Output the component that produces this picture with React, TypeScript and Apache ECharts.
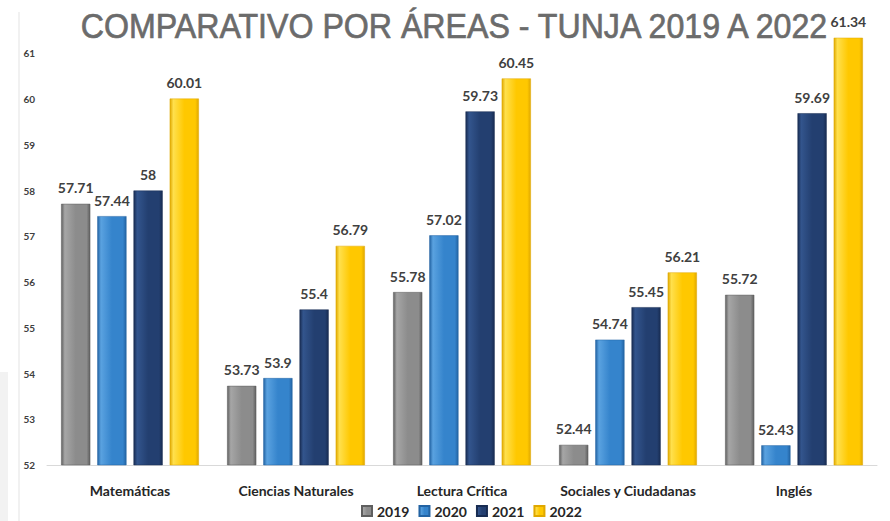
import React, { useEffect, useRef } from "react";
import * as echarts from "echarts";

const categories = ["Matemáticas", "Ciencias Naturales", "Lectura Crítica", "Sociales y Ciudadanas", "Inglés"];
const years = ["2019", "2020", "2021", "2022"];
const values2019 = [57.71, 53.73, 55.78, 52.44, 55.72];
const values2020 = [57.44, 53.9, 57.02, 54.74, 52.43];
const values2021 = [58, 55.4, 59.73, 55.45, 59.69];
const values2022 = [60.01, 56.79, 60.45, 56.21, 61.34];
const seriesValues = [values2019, values2020, values2021, values2022];

const palettes = [
  { edge: "#5f5f5f", mid: "#8c8c8c", light: "#a6a6a6" },
  { edge: "#2363a3", mid: "#3584cc", light: "#5aa2e0" },
  { edge: "#182c52", mid: "#233f70", light: "#33558d" },
  { edge: "#e0a800", mid: "#ffc800", light: "#ffe04d" },
];

const FONT = "Lato, 'Noto Sans', sans-serif";

function grad(p: { edge: string; mid: string; light: string }) {
  return new echarts.graphic.LinearGradient(0, 0, 1, 0, [
    { offset: 0, color: p.edge },
    { offset: 0.12, color: p.light },
    { offset: 0.5, color: p.mid },
    { offset: 0.88, color: p.mid },
    { offset: 1, color: p.edge },
  ]);
}

export default function App() {
  const ref = useRef<HTMLDivElement>(null);
  useEffect(() => {
    if (!ref.current) return;
    const chart = echarts.init(ref.current, undefined, { renderer: "svg" });
    chart.setOption({
      animation: false,
      backgroundColor: "#ffffff",
      graphic: [
        { type: "rect", shape: { x: 0, y: 372, width: 8, height: 149 }, style: { fill: "#f2f2f2" }, z: -1 },
        { type: "line", shape: { x1: 19, y1: 12, x2: 19, y2: 521 }, style: { stroke: "#e3e3e3", lineWidth: 1 }, z: -1 },
        {
          type: "text",
          x: 454,
          y: 25,
          scaleX: 0.893,
          z: 10,
          style: {
            text: "COMPARATIVO POR ÁREAS - TUNJA 2019 A 2022",
            fontFamily: "'Liberation Sans', Arial, sans-serif",
            fontSize: 36,
            fill: "#6b6b6b",
            stroke: "#6b6b6b",
            lineWidth: 0.7,
            align: "center",
            verticalAlign: "middle",
          },
        },
      ],
      legend: {
        data: years,
        top: 499,
        left: 356,
        icon: "rect",
        itemWidth: 10,
        itemHeight: 10,
        itemGap: 9,
        textStyle: { fontFamily: FONT, fontSize: 14, fontWeight: "bold", color: "#262626" },
      },
      grid: { left: 47, right: 13, top: 35, bottom: 56 },
      xAxis: {
        type: "category",
        data: categories,
        axisLine: { lineStyle: { color: "#d9d9d9" } },
        axisTick: { show: false },
        axisLabel: {
          interval: 0,
          fontFamily: FONT,
          fontSize: 14,
          fontWeight: "bold",
          color: "#262626",
          margin: 18,
        },
      },
      yAxis: {
        type: "value",
        min: 52,
        max: 61.4,
        interval: 1,
        splitLine: { show: false },
        axisLine: { show: false },
        axisTick: { show: false },
        axisLabel: {
          showMaxLabel: false,
          fontFamily: FONT,
          fontSize: 10,
          fontWeight: "bold",
          color: "#404040",
          margin: 12,
          formatter: (v: number) => (Number.isInteger(v) ? String(v) : ""),
        },
      },
      series: seriesValues.map((vals, i) => ({
        name: years[i],
        type: "bar",
        data: vals,
        barGap: "24%",
        barCategoryGap: "17%",
        itemStyle: {
          color: grad(palettes[i]),
          borderColor: palettes[i].edge,
          borderWidth: 0.5,
        },
        label: {
          show: true,
          position: "top",
          distance: 9,
          fontFamily: FONT,
          fontSize: 14,
          fontWeight: "bold",
          color: "#404040",
        },
        labelLayout: { hideOverlap: false },
      })),
      color: palettes.map((p) => p.mid),
    });
    return () => chart.dispose();
  }, []);
  return <div ref={ref} style={{ width: 890, height: 521, position: "absolute", left: 0, top: 0 }} />;
}
